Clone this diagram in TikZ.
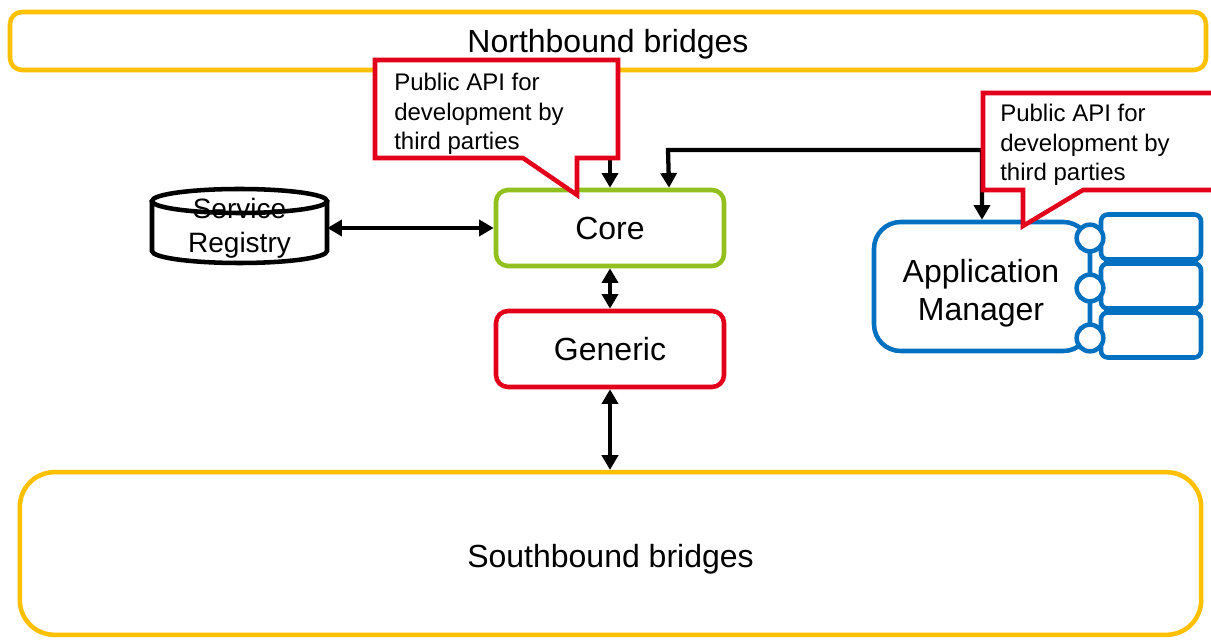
\documentclass[tikz,border=0pt]{standalone}
\usepackage{fontspec}
\setmainfont{Liberation Sans}
\usetikzlibrary{arrows.meta,calc}
\definecolor{cyellow}{HTML}{FFC000}
\definecolor{cgreen}{HTML}{92C01F}
\definecolor{cred}{HTML}{E3001B}
\definecolor{cblue}{HTML}{0070C0}
\begin{document}
\begin{tikzpicture}[x=0.75pt,y=-0.75pt,
  box/.style={draw, line width=3.4pt, rounded corners=9pt, fill=white, font=\fontsize{24}{28.5}\selectfont, inner sep=0pt, align=center, text depth=0pt},
  conn/.style={line width=3.2pt, {Triangle[length=11pt,width=12pt]}-{Triangle[length=11pt,width=12pt]}},
  conn1/.style={line width=3.2pt, -{Triangle[length=11pt,width=12pt]}},
  calloutbox/.style={draw=cred, line width=3.4pt, fill=white, line join=miter},
  calltext/.style={font=\fontsize{18}{22}\selectfont, align=left, inner sep=0pt, anchor=west},
  port/.style={circle, draw=cblue, line width=3.4pt, fill=white, minimum size=20pt, inner sep=0pt},
  portbox/.style={draw=cblue, line width=3.4pt, rounded corners=5pt, fill=white, minimum width=75pt, minimum height=33.75pt, inner sep=0pt},
]
\clip (0,0) rectangle (1211,641);
\fill[white] (0,0) rectangle (1211,641);

% bridges
\node[box, draw=cyellow, minimum width=897pt, minimum height=43.5pt] (nb) at (608,41) {Northbound bridges};
\node[box, draw=cyellow, rounded corners=26pt, minimum width=886pt, minimum height=122pt] (sb) at (610.5,553.5) {\raisebox{-3pt}{Southbound bridges}};

% core and generic
\node[box, draw=cgreen, minimum width=171pt, minimum height=57pt] (core) at (610,228) {Core};
\node[box, draw=cred, minimum width=171pt, minimum height=57pt] (gen) at (610,349) {Generic};

% service registry cylinder
\draw[line width=3.4pt, fill=white] (152,201) -- (152,251) arc[start angle=180,end angle=360,x radius=65.625pt,y radius=9pt] -- (327,201);
\draw[line width=3.4pt, fill=white] (239.5,201) ellipse[x radius=65.625pt, y radius=9pt];
\node[inner sep=0pt, minimum width=131.25pt, minimum height=55.5pt, font=\fontsize{21}{25.5}\selectfont, align=center] (reg) at (239.5,228) {Service\\Registry};

% application manager
\node[box, draw=cblue, rounded corners=20pt, minimum width=162pt, minimum height=96.75pt] (am) at (982,286.5) {};
\node[inner sep=0pt, align=center, font=\fontsize{24}{28.5}\selectfont] (amtext) at (981,293) {Application\\Manager};
\node[portbox] (r1) at (1151,237) {};
\node[portbox] (r2) at (1151,286) {};
\node[portbox] (r3) at (1151,335) {};
\fill[cblue] ([xshift=4pt]r1.south west) rectangle ([xshift=-4pt]r2.north east);
\fill[cblue] ([xshift=4pt]r2.south west) rectangle ([xshift=-4pt]r3.north east);
\node[port] (p1) at (1090,238) {};
\node[port] (p2) at (1090,288) {};
\node[port] (p3) at (1090,338) {};
\draw[cblue, line width=3.4pt] (p1) -- (p2) -- (p3);

% connectors
\draw[conn] (reg.east |- core.west) -- (core.west);
\draw[conn] (core.south) -- (gen.north);
\draw[conn] (gen.south) -- (gen.south |- sb.north);
\draw[conn1] (core.north |- nb.south) -- (core.north);
\coordinate (cr) at ($(core.north west)!0.754!(core.north east)$);
\coordinate (bend) at (668,150);
\draw[conn, line join=miter] (cr) -- (bend) -- (bend -| am.north) -- (am.north);

% callouts
\draw[calloutbox] (375,60) -- (618,60) -- (618,158) -- (577,158) -- (577,195) -- (523,158) -- (375,158) -- cycle;
\node[calltext] (c1) at (394,114) {Public API for\\development by\\third parties};
\draw[calloutbox] (983,93) -- (1230,93) -- (1230,190) -- (1083,190) -- (1023,226) -- (1023,190) -- (983,190) -- cycle;
\node[calltext] (c2) at (1000,145) {Public API for\\development by\\third parties};
\end{tikzpicture}
\end{document}
